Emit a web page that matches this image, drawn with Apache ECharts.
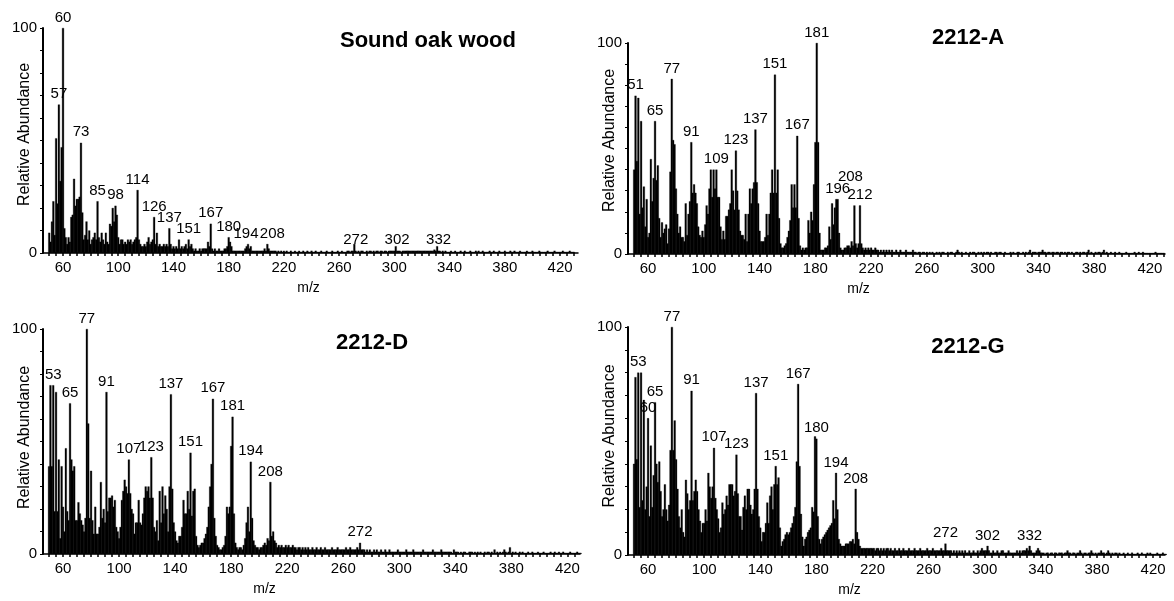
<!DOCTYPE html>
<html><head><meta charset="utf-8">
<script src="https://cdn.jsdelivr.net/npm/echarts@6/dist/echarts.min.js"></script>
<style>html,body{margin:0;padding:0;background:#fff}#c{width:1174px;height:601px}</style>
</head><body><div id="c"></div>
<script>
// ---- axis labels ----
const xTickLabels = [60, 100, 140, 180, 220, 260, 300, 340, 380, 420];
const yTickLabels = [0, 100];
const titles = ['Sound oak wood', '2212-A', '2212-D', '2212-G'];
const firstMz = 50; // first m/z of every intensity array (one value per integer m/z, 50..430)

// ---- Sound oak wood ----
const oakInt = [
  9,5,14,23,8,51,22,66,32,47,
  100,11,7,4,7,5,16,17,33,21,
  24,24,25,49,18,6,8,14,6,10,
  4,6,7,9,6,23,7,5,9,6,
  4,9,5,4,13,12,20,14,21,17,
  7,4,6,6,4,5,4,6,5,6,
  4,5,6,7,28,6,4,3,3,4,
  3,5,7,4,5,6,16,4,9,3,
  4,3,3,4,3,4,3,11,4,2,
  3,2,3,2,6,2,3,2,3,4,
  2,6,3,4,2,1,2,1,1,2,
  1,2,2,2,2,5,3,13,2,1,
  2,1,1,2,1,1,1,2,2,3,
  7,5,3,1,1,1,1,1,1,1,
  1,1,2,3,4,2,3,1,1,1,
  1,1,1,1,1,1,2,1,4,2,
  1,1,1,1,1,0.5,1,0.5,1,0.5,
  1,0.5,1,0.5,0.5,1,0.5,0.5,1,0.5,
  0.5,1,0.5,0.5,1,0.5,0.5,1,0.5,0.5,
  1,0.5,0.5,1,0.5,0.5,0.5,1,0.5,0.5,
  0.5,1,0.5,0.5,0.5,1,0.5,0.5,0.5,1,
  0.5,0.5,1,0.5,0.5,0.5,1,1,0.5,1,
  1,4,1,0.5,1,0.5,1,1,0.5,0.5,
  1,0.5,1,1,0.5,1,0.5,1,1,0.5,
  1,1,0.5,1,1,0.5,1,1,1,1,
  1,3,1,1,1,0.5,1,1,1,1,
  1,1,1,1,1,1,1,1,1,1,
  1,1,1,1,1,1,1,1,1,1.5,
  1,3,1,1,0.5,1,0.5,1,0.5,0.5,
  0.5,1,0.5,0.5,1,0.5,0.5,0.5,1,0.5,
  0.5,1,0.5,0.5,0.5,1,0.5,0.5,0.5,1,
  0.5,1,0.5,0.5,1,0.5,0.5,0.5,0.5,1,
  0.5,0.5,1,0.5,0.5,0.5,1,0.5,0.5,0.5,
  1,0.5,0.5,0.5,1,0.5,0.5,1,0.5,0.5,
  0.5,1,0.5,0.5,0.5,0.5,1,0.5,0.5,0.5,
  1,0.5,0.5,0.5,0.5,1,0.5,0.5,0.5,0.5,
  0.5,1,0.5,0.5,0.5,0.5,1,0.5,0.5,0.5,
  0.5,0.5,1,0.5,0.5,0.5,0.5,1,0.5,0.5,
  0.5
];
const oakLabels = [57, 60, 73, 85, 98, 114, 126, 137, 151, 167, 180, 194, 208, 272, 302, 332];

// ---- 2212-A ----
const aInt = [
  40,75,44,74,19,63,22,32,13,26,
  8,10,45,25,36,63,35,42,17,8,
  15,10,12,14,5,12,39,83,54,52,
  31,19,10,13,8,8,6,24,9,19,
  25,53,29,33,29,24,13,9,8,11,
  8,14,23,19,31,40,27,40,31,40,
  27,27,13,7,11,7,18,18,21,24,
  40,30,21,49,30,21,11,9,9,7,
  19,6,19,31,24,31,34,59,34,24,
  11,6,6,6,8,19,9,19,29,40,
  29,85,29,40,17,5,3,3,4,5,
  8,11,16,33,22,33,22,56,17,4,
  2,3,2,3,3,16,10,20,16,33,
  53,100,53,10,2,2,2,3,3,4,
  13,7,24,14,22,26,26,10,3,2,
  2,3,3,4,4,3,6,4,23,5,
  3,5,23,5,3,2,3,2,3,2,
  3,2,2,3,2,2,1,2,1,2,
  1,2,1,2,1,2,1,1,2,1,
  1,2,1,1,1,2,1,1,1,1,
  2,1,1,0.5,1,1,0.5,1,1,0.5,
  1,0.5,1,0.5,1,0.5,0.5,1,0.5,1,
  0.5,1,1,0.5,0.5,1,0.5,1,1,0.5,
  0.5,1,2,1,0.5,1,0.5,0.5,1,0.5,
  0.5,1,0.5,1,1,0.5,0.5,1,0.5,1,
  0.5,1,0.5,1,1,0.5,1,0.5,0.5,1,
  1,0.5,1,1,0.5,0.5,1,0.5,0.5,0.5,
  1,0.5,1,0.5,0.5,1,1,0.5,0.5,1,
  0.5,1,0.5,1,2,0.5,1,1,1,0.5,
  1,1,1,2,1,1,0.5,1,1,0.5,
  1,1,0.5,1,1,0.5,1,1,0.5,1,
  0.5,1,1,0.5,1,0.5,0.5,1,1,0.5,
  1,0.5,1,1,0.5,1,2,0.5,1,0.5,
  0.5,1,0.5,1,1,0.5,1,2,0.5,1,
  0.5,0.5,1,0.5,0.5,1,0.5,0.5,1,0.5,
  0.5,0.5,0.5,1,0.5,0.5,0.5,0.5,0.5,1,
  0.5,0.5,1,0.5,0.5,1,0.5,0.5,0.5,0.5,
  0.5,0.5,0.5,0.5,1,0.5,0.5,0.5,0.5,0.5,
  0.5
];
const aLabels = [51, 65, 77, 91, 109, 123, 137, 151, 167, 181, 196, 208, 212];

// ---- 2212-D ----
const dInt = [
  39,75,39,75,19,72,19,42,7,39,
  21,10,47,19,15,67,42,37,39,15,
  15,23,18,15,13,10,16,100,58,16,
  37,15,9,21,9,9,12,32,16,20,
  14,72,19,25,25,26,21,24,12,10,
  7,12,24,28,33,30,27,42,27,20,
  18,9,14,14,24,14,13,18,25,30,
  28,30,25,43,25,12,10,15,6,28,
  14,30,18,26,20,10,30,71,29,14,
  10,6,5,8,8,12,24,18,18,28,
  20,45,17,28,29,8,4,3,4,5,
  5,7,9,12,21,30,40,69,16,8,
  4,3,2,2,3,4,8,21,18,21,
  48,61,18,5,3,2,3,3,2,4,
  7,14,21,10,41,16,6,4,3,3,
  2,3,3,4,5,4,7,6,32,8,
  10,6,5,3,4,3,4,3,3,4,
  3,4,3,3,4,3,3,2,3,3,
  2,3,2,3,2,3,2,2,3,2,
  2,3,2,2,3,2,2,3,2,2,
  2,2,3,2,2,2,3,2,2,2,
  2,2,3,2,2,3,2,2,2,2,
  3,2,5,2,2,2,1,2,1,2,
  1,1,2,1,2,1,1,2,1,1,
  2,1,1,2,1,1,1,1,1,2,
  1,1,1,1,1,2,1,1,1,1,
  2,1,1,1,1,1,1,2,1,1,
  1,1,1,1,2,1,1,1,1,1,
  2,1,1,1,1,1,1,1,0.5,2,
  1,1,1,0.5,1,0.5,1,1,0.5,0.5,
  1,1,1,0.5,1,0.5,1,0.5,1,0.5,
  0.5,1,0.5,1,1,0.5,1,0.5,2,0.5,
  1,0.5,1,0.5,1,2,1,0.5,1,3,
  0.5,1,0.5,1,0.5,0.5,1,0.5,1,0.5,
  0.5,0.5,1,0.5,0.5,1,0.5,0.5,0.5,1,
  0.5,0.5,0.5,1,0.5,0.5,0.5,0.5,1,0.5,
  0.5,1,0.5,0.5,1,0.5,0.5,1,0.5,0.5,
  0.5,0.5,1,0.5,0.5,0.5,0.5,1,0.5,0.5,
  0.5
];
const dLabels = [53, 65, 77, 91, 107, 123, 137, 151, 167, 181, 194, 208, 272];

// ---- 2212-G ----
const gInt = [
  40,78,42,80,21,80,24,68,20,30,
  60,17,48,21,35,67,40,32,41,28,
  17,20,31,20,15,22,46,100,46,59,
  42,29,17,12,20,10,8,33,27,20,
  24,72,24,28,33,28,20,15,10,14,
  14,20,15,36,30,25,30,47,25,20,
  16,10,12,23,18,20,26,22,31,31,
  31,26,28,44,27,17,17,11,21,26,
  20,29,29,22,18,20,29,71,29,17,
  12,6,10,10,14,23,14,26,30,20,
  31,39,31,34,12,4,6,7,9,10,
  9,10,12,14,17,21,41,75,39,18,
  8,4,7,8,10,11,12,21,19,52,
  51,17,7,5,7,8,9,10,11,12,
  13,14,24,16,36,20,7,5,4,4,
  4,5,5,5,6,6,7,5,29,10,
  7,4,3,3,3,3,3,3,3,3,
  3,3,2,3,3,2,3,2,3,2,
  3,3,2,3,2,2,3,2,2,3,
  2,2,3,2,2,2,3,2,2,2,
  3,2,2,2,3,2,2,2,2,3,
  2,2,2,3,2,2,2,2,2,3,
  2,2,5,2,2,2,2,1,2,1,
  2,1,2,1,2,1,2,1,1,2,
  1,1,2,1,1,2,1,2,3,2,
  2,2,4,2,1,1,2,1,1,2,
  1,1,2,2,1,1,1,2,1,1,
  1,1,1,2,1,2,1,2,2,2,
  3,2,4,2,1,1,1,2,3,2,
  1,1,1,0.5,1,1,0.5,1,1,0.5,
  1,1,0.5,1,1,1,0.5,1,1,2,
  1,1,0.5,1,1,0.5,1,1,2,1,
  0.5,1,1,0.5,1,1,2,1,0.5,1,
  0.5,1,1,2,1,1,0.5,1,2,1,
  0.5,1,0.5,1,1,0.5,1,0.5,0.5,1,
  0.5,0.5,1,0.5,0.5,1,0.5,0.5,0.5,1,
  0.5,0.5,1,0.5,0.5,0.5,1,0.5,1,0.5,
  0.5,0.5,0.5,1,0.5,0.5,0.5,1,0.5,0.5,
  0.5
];
const gLabels = [53, 60, 65, 77, 91, 107, 123, 137, 151, 167, 180, 194, 208, 272, 302, 332];

// ---- layout / style (not data) ----
const FONT = 'Liberation Sans';
const panels = [
  { data: oakInt, labels: oakLabels, grid: { left: 43, top: 28, width: 535, height: 225 }, xMin: 45.5, xMax: 433,
    title: [428, 30], mzShift: 2, yShift: 6, offsets: { 194: [-2, 0], 208: [5, 0] } },
  { data: aInt, labels: aLabels, grid: { left: 628, top: 43, width: 537, height: 211 }, xMin: 45.6, xMax: 430.8,
    title: [968, 27], mzShift: 38, yShift: 8, offsets: { 208: [-4, -18] } },
  { data: dInt, labels: dLabels, grid: { left: 43, top: 329, width: 537, height: 225 }, xMin: 45.7, xMax: 429,
    title: [372, 332], mzShift: 47, yShift: 4, offsets: {} },
  { data: gInt, labels: gLabels, grid: { left: 628, top: 327, width: 537, height: 228 }, xMin: 45.7, xMax: 428.5,
    title: [968, 336], mzShift: 47, yShift: 5, offsets: {} }
];

const minorTicks = [];
for (let t = 50; t <= 430; t += 5) minorTicks.push(t);

const option = {
  animation: false,
  backgroundColor: '#fff',
  title: panels.map((p, i) => ({
    text: titles[i], left: p.title[0], top: p.title[1], textAlign: 'center', padding: 0,
    textStyle: { fontFamily: FONT, fontSize: 22, fontWeight: 'bold', color: '#000' }
  })),
  grid: panels.map(p => Object.assign({ containLabel: false }, p.grid)),
  xAxis: panels.map((p, i) => ({
    type: 'value', gridIndex: i, min: p.xMin, max: p.xMax,
    name: 'm/z', nameLocation: 'middle', nameGap: 28, nameMoveOverlap: false,
    nameTextStyle: { fontFamily: FONT, fontSize: 14, color: '#000', padding: [0, 2 * p.mzShift, 0, 0] },
    axisLine: { lineStyle: { color: '#000', width: 1.5 } },
    axisTick: { show: true, customValues: minorTicks, length: 3, lineStyle: { color: '#000', width: 1.5 } },
    axisLabel: { customValues: xTickLabels, fontFamily: FONT, fontSize: 15, color: '#000', margin: 7 },
    splitLine: { show: false }
  })),
  yAxis: panels.map((p, i) => ({
    type: 'value', gridIndex: i, min: 0, max: 100, interval: 10,
    name: 'Relative Abundance', nameLocation: 'middle', nameGap: 10, nameRotate: 90, nameMoveOverlap: false,
    nameTextStyle: { fontFamily: FONT, fontSize: 16, color: '#000', padding: [0, 0, 0, 2 * p.yShift] },
    axisLine: { lineStyle: { color: '#000', width: 2 } },
    axisTick: { show: true, length: 3, lineStyle: { color: '#000', width: 1 } },
    axisLabel: { customValues: yTickLabels, fontFamily: FONT, fontSize: 15, color: '#000', margin: 6 },
    splitLine: { show: false }
  })),
  series: panels.map((p, i) => ({
    type: 'bar', xAxisIndex: i, yAxisIndex: i, barWidth: 2, barMinWidth: 2, barMaxWidth: 2,
    itemStyle: { color: '#000', borderColor: '#000', borderWidth: 0.3 },
    label: { show: false },
    data: p.data.map((v, k) => {
      const mz = firstMz + k;
      const item = { value: [mz, v] };
      if (p.labels.indexOf(mz) >= 0) {
        item.label = { show: true, position: 'top', distance: 3, formatter: String(mz),
          fontFamily: FONT, fontSize: 15, color: '#000', offset: p.offsets[mz] || [0, 0] };
      }
      return item;
    })
  }))
};

const chart = echarts.init(document.getElementById('c'), null, { renderer: 'canvas' });
chart.setOption(option);
</script>
</body></html>
